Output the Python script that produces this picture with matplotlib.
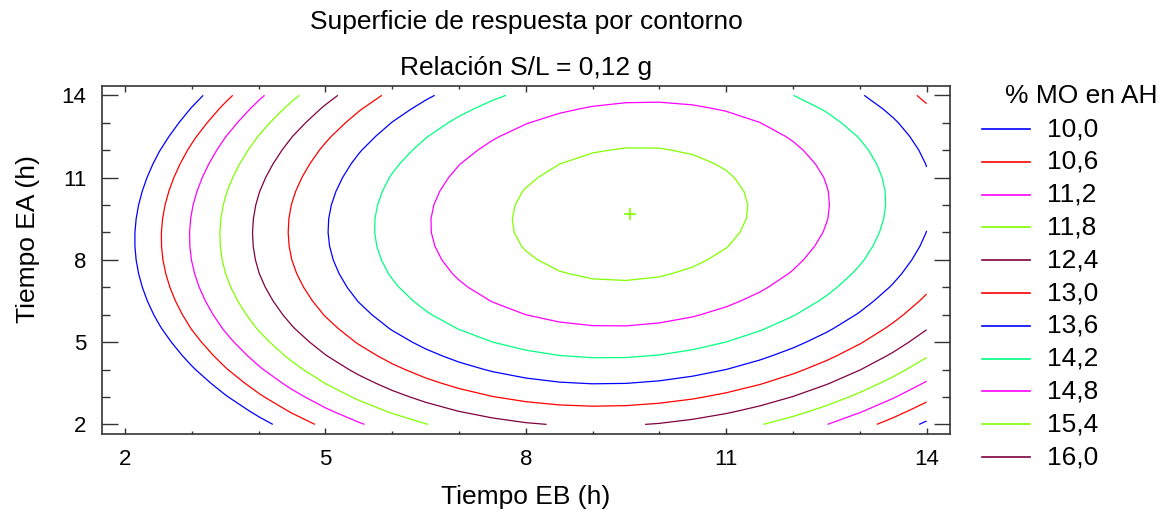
import numpy as np
import matplotlib.pyplot as plt
from matplotlib.lines import Line2D

plt.rcParams['font.family'] = ['Liberation Sans', 'DejaVu Sans']

# fitted second-order model, S/L fixed at 0.12 g:
# b0 + b1*EB + b2*EA + b11*EB^2 + b22*EA^2 + b12*EB*EA
coef = [2.192, 1.8722, 0.9492, -0.105, -0.056, 0.014]
eb_range = [2, 14]
ea_range = [2, 14]
levels = [10.0, 10.6, 11.2, 11.8, 12.4, 13.0, 13.6, 14.2, 14.8, 15.4, 16.0]
level_labels = ['10,0', '10,6', '11,2', '11,8', '12,4', '13,0',
                '13,6', '14,2', '14,8', '15,4', '16,0']
colors = ['#0000ff', '#ff0000', '#ff00ff', '#80ff00', '#800040', '#ff0000',
          '#0000ff', '#00ff80', '#ff00ff', '#80ff00', '#800040']
ticks = [2, 5, 8, 11, 14]


def response(eb, ea):
    b0, b1, b2, b11, b22, b12 = coef
    return b0 + b1 * eb + b2 * ea + b11 * eb ** 2 + b22 * ea ** 2 + b12 * eb * ea


def optimum():
    b0, b1, b2, b11, b22, b12 = coef
    m = np.array([[2 * b11, b12], [b12, 2 * b22]])
    return np.linalg.solve(m, [-b1, -b2])


W, H = 1166, 514
fig = plt.figure(figsize=(W / 100, H / 100), dpi=100)
ax = fig.add_axes([101.7 / W, 1 - 434 / H, 848.3 / W, 348.3 / H])

eb = np.linspace(eb_range[0], eb_range[1], 25)
ea = np.linspace(ea_range[0], ea_range[1], 25)
EB, EA = np.meshgrid(eb, ea)
Z = response(EB, EA)

ax.contour(EB, EA, Z, levels=levels, colors=colors, linewidths=0.9)
ox, oy = optimum()
ax.plot([ox], [oy], marker='+', color=colors[9], markersize=8, mew=1.2)

ax.set_xlim(1.65, 14.35)
ax.set_ylim(1.65, 14.35)
ax.set_xticks(ticks)
ax.set_yticks(ticks)
ax.set_xticks(range(2, 15), minor=True)
ax.set_yticks(range(2, 15), minor=True)
ax.tick_params(axis='x', which='major', direction='in', top=True, length=4.5,
               width=1, color='#333333', labelsize=16, pad=11)
ax.tick_params(axis='x', which='minor', direction='in', top=True, length=2.5,
               width=1, color='#333333')
ax.tick_params(axis='y', which='major', direction='in', right=True, length=11.5,
               width=1, color='#333333', labelsize=16, pad=11)
ax.tick_params(axis='y', which='minor', direction='in', right=True, length=5.8,
               width=1, color='#333333')
for s in ax.spines.values():
    s.set_color('#333333')
    s.set_linewidth(1.2)

ax.set_xlabel('Tiempo EB (h)', fontsize=19)
ax.set_ylabel('Tiempo EA (h)', fontsize=19)
ax.xaxis.set_label_coords(0.5, -(497 - 434) / 348.3, transform=ax.transAxes)
ax.yaxis.set_label_coords(-(101.7 - 28) / 848.3, (434 - 239) / 348.3,
                          transform=ax.transAxes)
ax.xaxis.label.set_va('center')
ax.yaxis.label.set_va('center')

fig.text(526 / W, 1 - 22 / H, 'Superficie de respuesta por contorno',
         ha='center', va='center', fontsize=19)
fig.text(526 / W, 1 - 68 / H, 'Relación S/L = 0,12 g',
         ha='center', va='center', fontsize=19)

# legend drawn by hand to keep the title offset to the right
fig.text(1005 / W, 1 - 96 / H, '% MO en AH', ha='left', va='center', fontsize=19)
for i, (lab, col) in enumerate(zip(level_labels, colors)):
    y = 1 - (129 + 32.8 * i) / H
    fig.add_artist(Line2D([982 / W, 1030 / W], [y, y], color=col, lw=1.2,
                          transform=fig.transFigure))
    fig.text(1047 / W, y, lab, ha='left', va='center', fontsize=19)

fig.savefig('out.png', dpi=100)
